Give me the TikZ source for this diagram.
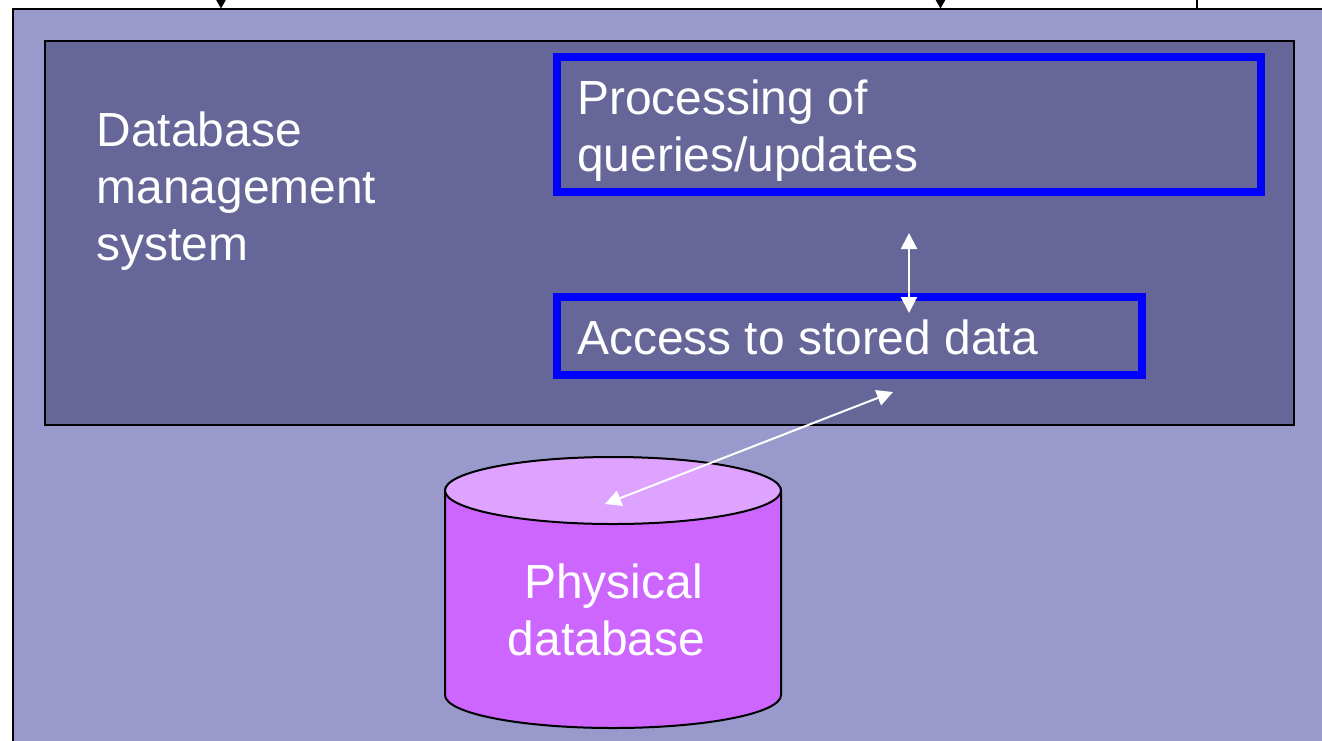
\documentclass[tikz,border=0pt]{standalone}
\usepackage{fontspec}
\setmainfont{Liberation Sans}
\usetikzlibrary{arrows.meta}
\definecolor{slidebg}{HTML}{9999CC}
\definecolor{panelbg}{HTML}{666699}
\definecolor{procblue}{HTML}{0000FF}
\definecolor{cylbody}{HTML}{CC66FF}
\definecolor{cyltop}{HTML}{DDA3FF}
\tikzset{
  outerframe/.style={draw=black,line width=2pt,fill=slidebg},
  panel/.style={draw=black,line width=1.5pt,fill=panelbg},
  bluebox/.style={draw=procblue,line width=8pt,inner sep=0pt},
  lbl/.style={text=white,font=\fontsize{47.9}{57}\selectfont,align=left,inner sep=0pt,anchor=base west},
  lblc/.style={text=white,font=\fontsize{47.9}{57}\selectfont,align=center,inner sep=0pt,anchor=base},
  whitearrow/.style={draw=white,line width=2pt,{Triangle[width=16pt,length=16pt,fill=white]}-{Triangle[width=16pt,length=16pt,fill=white]},shorten >=0pt,shorten <=0pt},
  stub/.style={draw=black,line width=1.5pt},
  stubarrow/.style={stub,-{Triangle[width=11pt,length=10pt,fill=black]}},
  cylline/.style={draw=black,line width=2pt}
}
\begin{document}
\begin{tikzpicture}[x=1pt,y=-1pt]
\useasboundingbox (0,0) rectangle (1322,740);
\clip (0,0) rectangle (1322,740);
\fill[white] (0,0) rectangle (1322,740);
% frame and stubs from the part of the figure above
\path[outerframe] (13,9) rectangle (1340,770);
\coordinate (s1a) at (221,-20);
\coordinate (s1b) at (221,8.5);
\coordinate (s2a) at (940.5,-20);
\coordinate (s2b) at (940.5,8.5);
\coordinate (s3a) at (1197,-20);
\coordinate (s3b) at (1197,9);
\draw[stubarrow] (s1a) -- (s1b);
\draw[stubarrow] (s2a) -- (s2b);
\draw[stub] (s3a) -- (s3b);
% dbms panel
\node[panel,anchor=north west,minimum width=1249pt,minimum height=384pt,inner sep=0pt] (dbms) at (44.2,40.2) {};
\node[lbl] (dbmslabel) at (96.5,260) {Database\\management\\system};
% blue boxes
\node[bluebox,anchor=north west,minimum width=704pt,minimum height=135pt] (proc) at (553,53) {};
\node[lbl] (proclabel) at (577,171) {Processing of\\queries/updates};
\node[bluebox,anchor=north west,minimum width=585pt,minimum height=78pt] (access) at (553,293) {};
\node[lbl] (accesslabel) at (577,354) {Access to stored data};
% cylinder
\path[cylline,fill=cylbody] (445,491) -- (445,695)
  arc[start angle=180,end angle=360,x radius=168,y radius=-33] -- (781,491)
  arc[start angle=0,end angle=180,x radius=168,y radius=-33.5] -- cycle;
\path[cylline,fill=cyltop] (613,490.5) ellipse[x radius=168,y radius=33.5];
\node[lblc] (dblabel) at (613.5,655.5) {Physical\\database\kern14pt};
% arrows
\coordinate (a1) at (909,233);
\coordinate (a2) at (909,313);
\coordinate (b1) at (893,392);
\coordinate (b2) at (605,504);
\draw[whitearrow] (a1) -- (a2);
\draw[whitearrow] (b1) -- (b2);
\end{tikzpicture}
\end{document}
